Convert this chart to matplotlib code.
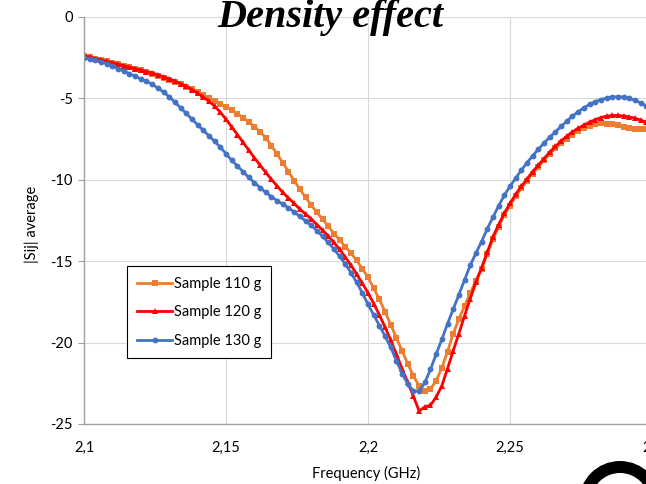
import numpy as np
import matplotlib
matplotlib.use('Agg')
import matplotlib.pyplot as plt
from matplotlib.patches import Circle

plt.rcParams['font.family'] = ['Lato', 'DejaVu Sans']
plt.rcParams['axes.unicode_minus'] = False

# частота, шаг 2 МГц
freq = np.linspace(2.1, 2.3, 101)

s110 = [
    -2.38, -2.46, -2.55, -2.63, -2.72, -2.81, -2.90, -2.99, -3.08, -3.17,
    -3.28, -3.38, -3.48, -3.60, -3.72, -3.85, -3.99, -4.13, -4.28, -4.43,
    -4.60, -4.78, -4.96, -5.14, -5.32, -5.52, -5.72, -5.94, -6.18, -6.44,
    -6.73, -7.05, -7.42, -7.90, -8.42, -8.95, -9.50, -10.05, -10.58, -11.08,
    -11.55, -12.00, -12.42, -12.85, -13.30, -13.70, -14.10, -14.50, -14.95, -15.45,
    -16.00, -16.65, -17.35, -18.10, -18.90, -19.70, -20.50, -21.30, -22.05, -22.65,
    -22.95, -22.85, -22.35, -21.55, -20.55, -19.45, -18.55, -17.75, -16.95, -16.20,
    -15.45, -14.55, -13.65, -12.88, -12.18, -11.58, -11.02, -10.52, -10.06, -9.62,
    -9.20, -8.80, -8.42, -8.07, -7.76, -7.48, -7.22, -7.00, -6.82, -6.68,
    -6.58, -6.54, -6.55, -6.60, -6.66, -6.74, -6.82, -6.87, -6.90, -6.90,
    -6.90,
]
s120 = [
    -2.38, -2.46, -2.55, -2.63, -2.72, -2.81, -2.90, -2.99, -3.08, -3.17,
    -3.26, -3.35, -3.44, -3.55, -3.67, -3.80, -3.94, -4.09, -4.26, -4.46,
    -4.68, -4.92, -5.18, -5.48, -5.85, -6.28, -6.75, -7.22, -7.70, -8.18,
    -8.65, -9.10, -9.55, -9.98, -10.38, -10.78, -11.12, -11.45, -11.80, -12.10,
    -12.40, -12.75, -13.10, -13.45, -13.85, -14.28, -14.75, -15.25, -15.80, -16.35,
    -16.95, -17.60, -18.30, -19.05, -19.85, -20.70, -21.60, -22.45, -23.30, -24.20,
    -23.95, -23.85, -23.35, -22.65, -21.60, -20.50, -19.45, -18.35, -17.30, -16.30,
    -15.40, -14.45, -13.50, -12.75, -12.05, -11.45, -10.90, -10.40, -9.95, -9.50,
    -9.10, -8.70, -8.30, -7.95, -7.62, -7.32, -7.06, -6.84, -6.64, -6.46,
    -6.31, -6.18, -6.09, -6.05, -6.05, -6.08, -6.14, -6.22, -6.33, -6.47,
    -6.60,
]
s130 = [
    -2.50, -2.57, -2.65, -2.75, -2.87, -3.01, -3.17, -3.32, -3.48, -3.64,
    -3.80, -3.96, -4.13, -4.36, -4.61, -4.90, -5.23, -5.58, -5.92, -6.27,
    -6.62, -6.96, -7.30, -7.64, -8.00, -8.40, -8.80, -9.15, -9.50, -9.85,
    -10.17, -10.48, -10.78, -11.04, -11.28, -11.50, -11.72, -11.98, -12.25, -12.52,
    -12.80, -13.12, -13.48, -13.85, -14.25, -14.70, -15.17, -15.70, -16.30, -16.95,
    -17.65, -18.30, -18.95, -19.60, -20.30, -21.10, -21.90, -22.55, -22.95, -23.00,
    -22.45, -21.65, -20.70, -19.80, -18.85, -17.95, -17.05, -16.15, -15.25, -14.50,
    -13.80, -13.00, -12.30, -11.60, -10.95, -10.40, -9.90, -9.40, -8.95, -8.52,
    -8.12, -7.74, -7.38, -7.05, -6.72, -6.40, -6.08, -5.82, -5.58, -5.37,
    -5.20, -5.07, -4.98, -4.92, -4.89, -4.92, -5.00, -5.10, -5.28, -5.47,
    -5.65,
]

labels = ['Sample 110 g', 'Sample 120 g', 'Sample 130 g']
x_ticks = [2.1, 2.15, 2.2, 2.25, 2.3]
x_tick_labels = ['2,1', '2,15', '2,2', '2,25', '2,3']
y_ticks = [0, -5, -10, -15, -20, -25]

W, H = 646, 484
fig = plt.figure(figsize=(W / 100, H / 100), dpi=100)
# ось уходит за правый край, как в оригинале
ax = fig.add_axes([84 / W, 1 - 424 / H, 568 / W, 407 / H])

styles = [
    ('#ED7D31', 's', 4.2),
    ('#FF0000', '^', 3.8),
    ('#4472C4', 'o', 4.2),
]
for vals, (color, marker, ms), lab in zip([s110, s120, s130], styles, labels):
    ax.plot(freq, vals, color=color, lw=2.0, marker=marker, ms=ms,
            markeredgewidth=0, label=lab)

ax.set_xlim(2.1, 2.3)
ax.set_ylim(-25, 0)
ax.set_xticks(x_ticks)
ax.set_xticklabels(x_tick_labels)
ax.set_yticks(y_ticks)
ax.grid(color='#D9D9D9', lw=0.8)
ax.set_axisbelow(True)
for side in ['top', 'right']:
    ax.spines[side].set_visible(False)
for side in ['left', 'bottom']:
    ax.spines[side].set_color('#A0A0A0')
    ax.spines[side].set_linewidth(1.0)
ax.tick_params(axis='y', length=4, color='#A0A0A0', labelsize=10.5, pad=4)
ax.tick_params(axis='x', length=0, labelsize=10.5, pad=12)

leg = ax.legend(loc='lower left', bbox_to_anchor=(127 / W, 1 - 358 / H),
                bbox_transform=fig.transFigure, borderaxespad=0,
                fancybox=False, framealpha=1, edgecolor='black',
                fontsize=10.5, handlelength=2.4, handletextpad=0.1,
                labelspacing=1.0, borderpad=0.7)
leg.get_frame().set_linewidth(0.8)

fig.text(330 / W, 1 - 27 / H, 'Density effect', family='Liberation Serif',
         weight='bold', style='italic', size=29, ha='center', va='baseline')
fig.text(366 / W, 1 - 473 / H, 'Frequency (GHz)', ha='center', va='center',
         size=10.5)
fig.text(32 / W, 1 - 224 / H, '|Sij| average', rotation=90, ha='center',
         va='center', size=10.5)

ring = Circle((6.20, -0.18), 0.35, transform=fig.dpi_scale_trans,
              fill=False, lw=8.6, edgecolor='black', clip_on=False)
fig.add_artist(ring)

fig.savefig('out.png', dpi=100)
